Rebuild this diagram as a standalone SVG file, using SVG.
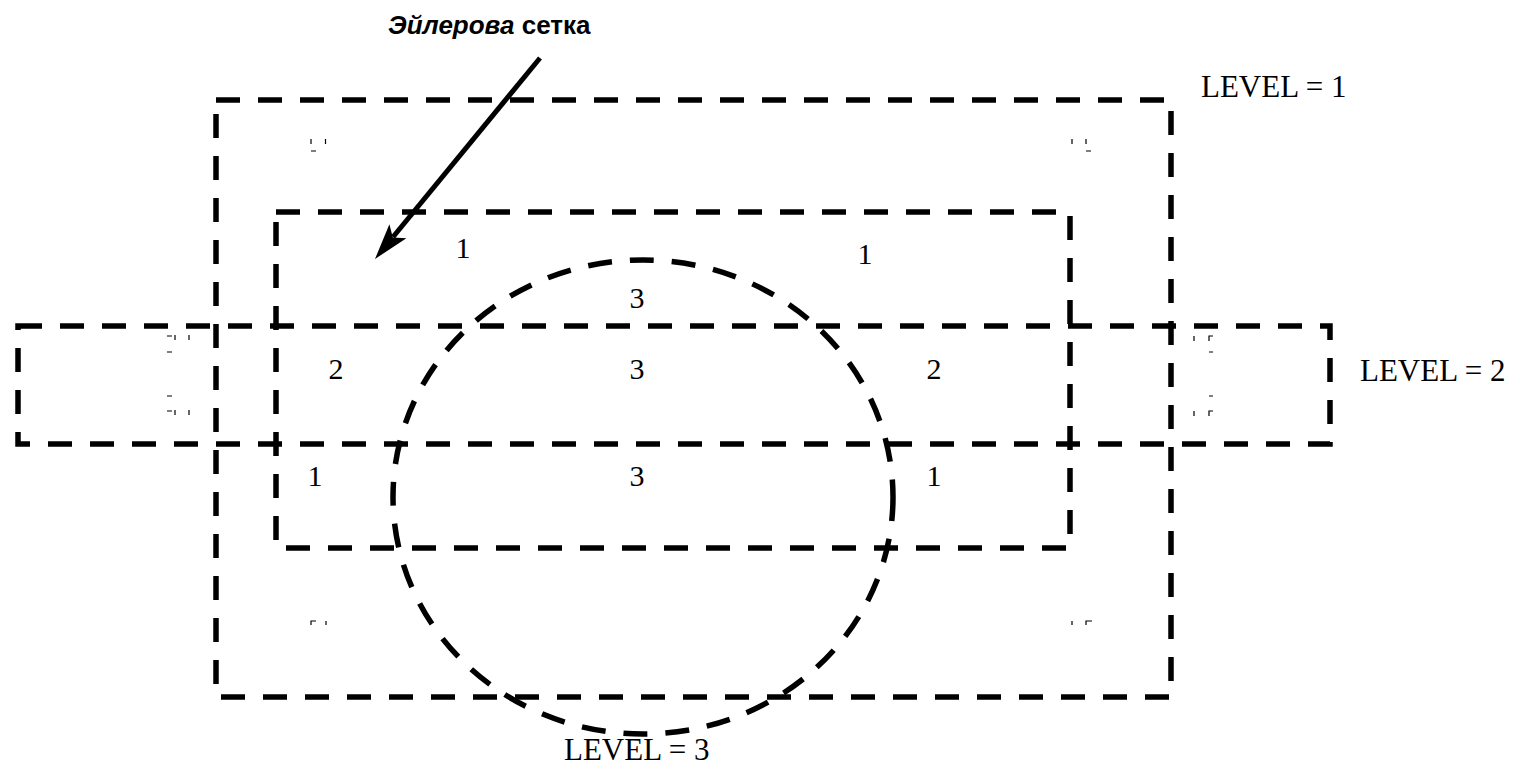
<svg xmlns="http://www.w3.org/2000/svg" width="1520" height="781" viewBox="0 0 1520 781">
<style>
.dash{fill:none;stroke:#000;stroke-width:5.5;stroke-dasharray:24 18}
.lbl{font-family:"Liberation Serif","Times New Roman",serif;font-size:31px;fill:#000}
.num{font-family:"Liberation Serif","Times New Roman",serif;font-size:30px;fill:#000;text-anchor:middle}
.tick{fill:none;stroke:#000;stroke-width:1.2}
</style>
<rect width="1520" height="781" fill="#fff"/>
<g id="level1">
<path class="dash" d="M216,100 H1171 V697 H216 Z"/>
<text class="lbl" x="1201" y="97">LEVEL = 1</text>
</g>
<g id="inner">
<path class="dash" d="M276,212 H1070 V548 H276 Z"/>
</g>
<g id="level2">
<path class="dash" d="M18,326 H1330 V444 H18 Z"/>
<text class="lbl" x="1360" y="381">LEVEL = 2</text>
</g>
<g id="level3">
<ellipse class="dash" cx="643" cy="497" rx="250" ry="237"/>
<text class="lbl" x="564" y="760">LEVEL = 3</text>
</g>
<g id="numbers">
<text class="num" x="463" y="258">1</text>
<text class="num" x="865" y="264">1</text>
<text class="num" x="637" y="308">3</text>
<text class="num" x="336" y="379">2</text>
<text class="num" x="637" y="379">3</text>
<text class="num" x="934" y="379">2</text>
<text class="num" x="315" y="486">1</text>
<text class="num" x="637" y="486">3</text>
<text class="num" x="934" y="486">1</text>
</g>
<g id="marks">
<path class="tick" d="M311,139 V144 M325.5,139 V144 M311,151 H316"/>
<path class="tick" d="M1072,139 V144 M1086,139 V144 M1086,151 H1091"/>
<path class="tick" d="M167,336 H172 M175,335 V340 M189,335 V340 M167,352 H172 M167,396 H172 M167,411 H172 M175,410 V415 M189,410 V415"/>
<path class="tick" d="M1194,336 V341 M1209,341 V336 H1213 M1209,352 H1213 M1209,396 H1213 M1194,411 V416 M1209,416 V411 H1213"/>
<path class="tick" d="M311,625 V621 H316 M326,621 V625"/>
<path class="tick" d="M1072,621 V625 M1086,625 V621 H1092"/>
</g>
<g id="title">
<text x="388" y="34" font-family="'Liberation Sans',Arial,sans-serif" font-weight="bold" font-size="26"><tspan font-style="italic">Эйлерова</tspan> сетка</text>
</g>
<g id="connectors">
<line x1="540" y1="58" x2="393" y2="237" stroke="#000" stroke-width="5"/>
<polygon points="375,259 389.4,224.2 392.8,237.4 406.4,238.2" fill="#000"/>
</g>
</svg>
